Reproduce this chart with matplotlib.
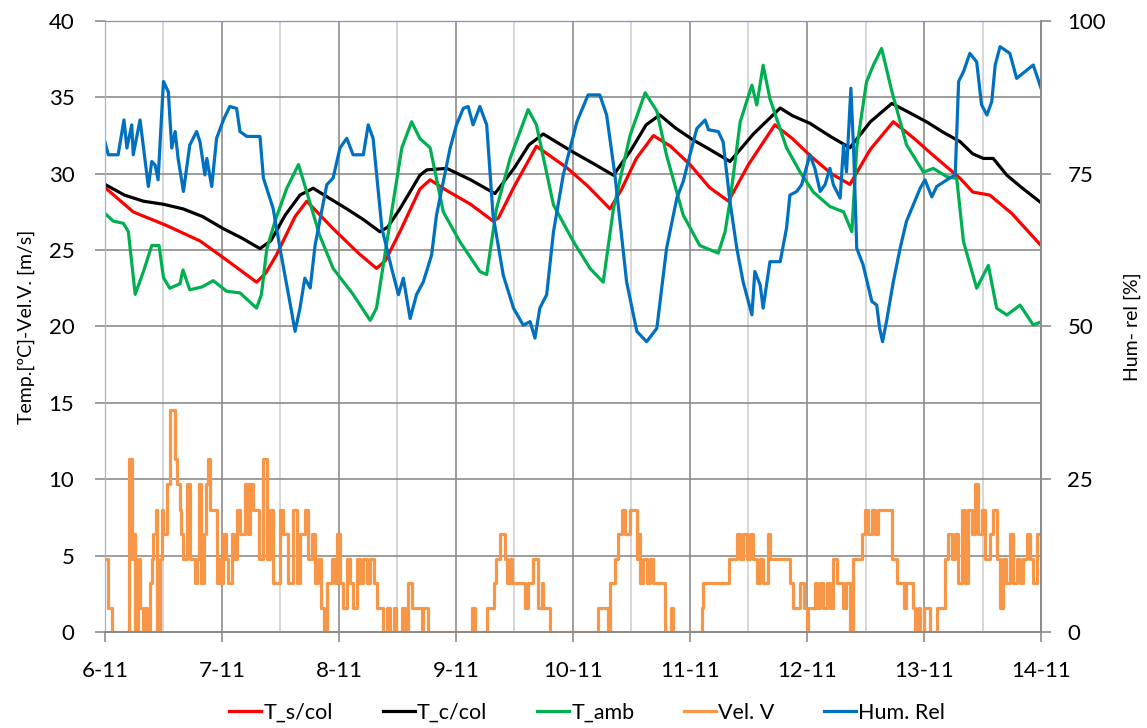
import numpy as np
import matplotlib
matplotlib.use('Agg')
import matplotlib.pyplot as plt
from matplotlib.ticker import MultipleLocator

plt.rcParams['font.family'] = ['Lato', 'DejaVu Sans']

# hours counted from 6-11 00:00
day_labels = ['6-11', '7-11', '8-11', '9-11', '10-11', '11-11', '12-11', '13-11', '14-11']

ts_h = [0, 5.8, 12.7, 19.5, 24.3, 31.1, 33, 35.2, 39, 41.4, 46.8, 52, 55.7, 57.5, 60.5, 64.6,
        66.7, 70.1, 75, 79.6, 80.7, 84, 88.5, 94.7, 99, 103.6, 106, 109, 112.5, 116, 120, 124,
        127.9, 132, 137.4, 141, 144.6, 149, 152.8, 157, 161.7, 166, 169.9, 175.4, 178, 181.5,
        186, 192]
ts_v = [29.1, 27.5, 26.6, 25.6, 24.5, 22.9, 23.5, 24.7, 27.2, 28.2, 26.4, 24.8, 23.8, 24.3, 26.2, 29.0,
        29.6, 28.9, 28.0, 26.9, 27.1, 29.2, 31.8, 30.4, 29.2, 27.7, 29.0, 31.0, 32.5, 31.8, 30.6, 29.1,
        28.2, 30.6, 33.2, 32.3, 31.2, 30.0, 29.3, 31.6, 33.4, 32.3, 31.2, 29.7, 28.8, 28.6,
        27.4, 25.3]

tc_h = [0, 4, 7.9, 12, 16, 20, 24.3, 28, 31.8, 34, 37, 40, 42.7, 46, 49.6, 53, 56.4, 58, 60.5,
        64.6, 66, 70.1, 75, 80, 84, 87, 89.9, 93, 96.1, 100, 104.3, 108, 111, 113.8, 117, 120.7,
        124, 128.2, 133, 138.5, 141, 144.6, 149, 152.8, 157, 161.4, 165, 168.5, 172, 175.4, 178,
        180.2, 182.2, 185, 188, 192]
tc_v = [29.3, 28.6, 28.2, 28.0, 27.7, 27.2, 26.4, 25.8, 25.1, 25.6, 27.3, 28.6, 29.05, 28.4, 27.7, 27.0, 26.2, 26.5, 27.7,
        29.9, 30.25, 30.35, 29.6, 28.7, 30.4, 31.9, 32.6, 32.0, 31.4, 30.7, 29.9, 31.6, 33.2, 33.85, 33.0, 32.2,
        31.6, 30.8, 32.6, 34.3, 33.8, 33.3, 32.4, 31.7, 33.4, 34.6, 34.0, 33.4, 32.7, 32.1, 31.3,
        31.0, 31.0, 29.9, 29.1, 28.1]

ta_h = [0, 1.7, 3.8, 4.8, 6.2, 7.9, 9.6, 11.1, 12, 13.3, 15.4, 16, 17.4, 20, 22.2, 25, 27.7, 31.1,
        32.1, 33.2, 35, 37.3, 39.7, 41.4, 44, 46.8, 50.9, 54.4, 55.7, 58.5, 60.9, 62.9, 64.6, 66.7,
        69.4, 72.8, 76.9, 78.3, 80.3, 83.1, 86.8, 88.5, 92, 96.1, 99.5, 102.2, 104.3, 107.7, 110.8,
        113.2, 115.2, 118.6, 122, 125.8, 127.2, 128.2, 130.3, 132.7, 133.7, 135, 136.4, 139.8,
        142.6, 145.3, 148.7, 151.5, 153.2, 154.2, 156.2, 157.6, 159.3, 161.4, 164.4, 167.9, 169.9,
        172.7, 174.7, 176.1, 178.8, 181.2, 182.9, 185, 187.7, 190.4, 192]
ta_v = [27.4, 26.9, 26.75, 26.2, 22.1, 23.6, 25.3, 25.3, 23.2, 22.5, 22.8, 23.7, 22.4, 22.6, 23.0, 22.3, 22.2, 21.2,
        22.1, 25.1, 27.0, 29.05, 30.6, 28.8, 26.0, 23.8, 22.1, 20.4, 21.2, 26.9, 31.7, 33.4, 32.3, 31.7,
        27.5, 25.55, 23.6, 23.4, 27.7, 31.0, 34.2, 33.2, 27.95, 25.55, 23.8, 22.9, 27.7, 32.5, 35.3,
        34.1, 31.2, 27.3, 25.3, 24.8, 26.2, 28.2, 33.4, 35.8, 34.5, 37.1, 34.9, 31.7,
        30.1, 28.8, 27.85, 27.5, 26.2, 31.7, 36.0, 37.1, 38.2, 35.4, 31.9, 30.1, 30.35,
        29.8, 29.7, 25.55, 22.5, 24.0, 21.2, 20.75, 21.4, 20.1, 20.3]

wind_h = [0, 0.7, 1.4, 5.0, 5.5, 5.8, 6.2, 6.8, 7.2, 7.9,
          8.2, 8.6, 9.2, 9.6, 9.9, 10.4, 10.7, 11.3, 11.6, 12.0,
          12.7, 13.3, 14.4, 14.8, 15.3, 15.5, 16.1, 16.9, 17.4, 18.5,
          18.8, 19.3, 19.8, 20.3, 20.7, 21.2, 21.5, 22.6, 22.9, 23.3,
          23.6, 24.3, 24.8, 25.3, 26.0, 26.5, 27.0, 27.7, 28.7, 29.4,
          29.7, 30.4, 31.7, 32.5, 33.2, 33.9, 34.5, 35.9, 36.6, 37.6,
          38.6, 39.3, 40.0, 41.0, 41.7, 42.4, 43.1, 43.8, 44.4, 44.9,
          45.5, 46.5, 47.2, 47.5, 48.2, 48.9, 49.6, 50.3, 50.9, 51.6,
          52.3, 53.0, 53.7, 54.4, 55.2, 55.7, 57.1, 57.8, 58.5, 59.2,
          59.8, 60.9, 61.5, 62.2, 62.9, 65.0, 65.3, 66.3, 75.2, 75.9,
          78.3, 79.7, 80.3, 81.0, 82.1, 82.4, 83.1, 83.4, 86.2, 86.8,
          87.9, 88.9, 89.6, 89.9, 91.3, 101.2, 103.2, 103.6, 104.6, 105.3,
          106.0, 106.7, 107.7, 109.1, 109.4, 109.7, 110.4, 111.1, 111.8, 112.5,
          114.9, 116.1, 116.6, 122.4, 122.7, 127.9, 129.6, 130.3, 130.9, 131.6,
          132.3, 133.0, 133.7, 134.4, 135.0, 136.1, 136.5, 140.5, 141.2, 142.6,
          143.3, 143.9, 144.3, 145.6, 146.0, 146.7, 147.3, 148.0, 148.7, 149.4,
          150.1, 151.4, 152.1, 152.8, 153.5, 155.2, 155.9, 156.6, 157.3, 158.0,
          158.6, 161.4, 162.4, 163.8, 164.4, 165.8, 166.2, 166.8, 167.2, 167.9,
          169.2, 170.6, 172.3, 173.0, 173.7, 174.4, 175.0, 175.7, 176.4, 177.1,
          177.8, 178.5, 179.1, 179.8, 180.5, 181.5, 182.2, 182.9, 183.6, 184.3,
          184.9, 185.6, 186.3, 187.0, 187.7, 188.4, 189.1, 189.7, 190.4, 191.1, 192.0]
wind_v = [4.8, 1.6, 0, 11.3, 4.8, 6.4, 0, 4.8, 1.6, 0,
          1.6, 0, 3.2, 4.8, 6.4, 8.0, 0, 4.8, 8.0, 6.4,
          9.7, 14.5, 11.3, 9.7, 8.0, 6.4, 4.8, 9.7, 4.8, 3.2,
          4.8, 9.7, 3.2, 6.4, 9.7, 11.3, 8.0, 8.0, 3.2, 4.8,
          3.2, 6.4, 4.8, 3.2, 6.4, 4.8, 8.0, 6.4, 9.7, 6.4,
          9.7, 8.0, 4.8, 11.3, 4.8, 8.0, 3.2, 8.0, 6.4, 3.2,
          8.0, 3.2, 6.4, 8.0, 4.8, 6.4, 3.2, 4.8, 1.6, 0,
          3.2, 4.8, 3.2, 6.4, 3.2, 1.6, 4.8, 3.2, 1.6, 4.8,
          3.2, 4.8, 3.2, 4.8, 3.2, 1.6, 0, 1.6, 0, 1.6,
          0, 1.6, 0, 3.2, 1.6, 0, 1.6, 0, 1.6, 0,
          1.6, 3.2, 4.8, 6.4, 4.8, 3.2, 4.8, 3.2, 1.6, 3.2,
          4.8, 1.6, 3.2, 1.6, 0, 1.6, 0, 3.2, 4.8, 6.4,
          8.0, 6.4, 8.0, 4.8, 6.4, 3.2, 4.8, 3.2, 4.8, 3.2,
          0, 1.6, 0, 1.6, 3.2, 4.8, 6.4, 4.8, 6.4, 4.8,
          6.4, 4.8, 3.2, 4.8, 3.2, 6.4, 4.8, 3.2, 1.6, 3.2,
          1.6, 0, 1.6, 3.2, 1.6, 3.2, 1.6, 3.2, 1.6, 4.8,
          3.2, 1.6, 3.2, 0, 4.8, 6.4, 8.0, 6.4, 8.0, 6.4,
          8.0, 4.8, 3.2, 1.6, 3.2, 1.6, 0, 1.6, 0, 1.6,
          0, 1.6, 4.8, 6.4, 4.8, 6.4, 3.2, 8.0, 3.2, 8.0,
          6.4, 9.7, 6.4, 8.0, 4.8, 6.4, 8.0, 4.8, 1.6, 4.8,
          3.2, 6.4, 3.2, 4.8, 3.2, 4.8, 6.4, 4.8, 3.2, 6.4, 4.8]

hum_h = [0, 0.7, 2.7, 3.9, 4.5, 5.5, 5.8, 7.2, 8.9, 9.6, 10.3, 10.9, 12, 13, 13.7, 14.4, 15, 16.1,
         17.4, 18.8, 19.5, 20.5, 20.9, 21.9, 22.9, 24.3, 25.6, 27, 27.7, 29.1, 31.8, 32.5, 34.5,
         35.9, 37.9, 39, 40, 41, 42.1, 43.1, 45.5, 46.8, 48.2, 49.6, 50.9, 53, 54, 55, 56.8, 58.8,
         60.2, 61.2, 62.6, 63.9, 65.3, 67, 68, 70.8, 72.1, 73.5, 74.5, 75.5, 76.9, 78.3, 79.6,
         81.7, 83.8, 85.8, 87.2, 88.2, 89.2, 90.6, 92, 94, 96.8, 99.1, 101.5, 102.9, 104.6, 107,
         109.1, 111.1, 113.2, 115.2, 117.3, 118.6, 120, 121.4, 123.1, 123.8, 125.8, 126.8, 128.2,
         129.6, 130.9, 132.7, 133.3, 134.4, 135, 136.4, 138.5, 139.8, 140.5, 141.9, 142.9, 144.6,
         145.6, 146.7, 147.7, 148.7, 149.4, 150.8, 151.5, 152.1, 153, 153.6, 154.2, 155.5, 157.3,
         158.3, 158.9, 159.5, 160.3, 161.7, 163.1, 164.4, 165.8, 167.2, 168.2, 169.6, 170.6,
         172.7, 174.4, 175.1, 176.1, 177.4, 178.8, 179.8, 180.9, 181.9, 182.6, 183.6, 185.6,
         187, 188.7, 190.4, 192]
hum_v = [80.2, 78.1, 78.1, 83.8, 79.2, 83.0, 78.1, 83.8, 72.9, 77.0, 76.4, 74.0, 90.1, 88.4, 79.2, 81.9, 77.5, 72.1,
         79.7, 81.9, 80.2, 74.8, 77.5, 72.9, 80.8, 83.8, 86.0, 85.7, 81.9, 81.1, 81.1, 74.3, 69.3,
         62.8, 54.1, 49.2, 53.0, 57.9, 56.3, 63.3, 73.2, 74.3, 79.2, 80.8, 78.1, 78.1, 83.0, 80.8, 66.1, 59.5,
         55.2, 57.9, 51.3, 55.2, 57.3, 61.7, 68.2, 79.2, 83.0, 85.7, 86.0, 83.0, 86.0, 83.0, 68.2,
         58.4, 53.0, 50.2, 50.8, 48.1, 53.0, 55.2, 65.5, 74.8, 83.5, 87.9, 87.9, 84.6, 74.8, 57.3,
         49.2, 47.5, 49.7, 62.8, 71.0, 73.7, 78.1, 82.4, 83.8, 82.2, 81.9, 80.2, 70.4,
         62.8, 57.3, 51.9, 59.0, 56.8, 53.0, 60.6, 60.6, 66.1, 71.5, 72.1, 73.2, 78.1,
         75.9, 72.1, 73.2, 75.9, 73.2, 71.0, 79.7, 75.3, 89.0, 78.1, 62.8, 60.1, 54.1,
         53.5, 49.7, 47.5, 50.8, 57.3, 62.8, 67.2, 69.9, 72.6, 74.0, 71.2, 72.9,
         74.0, 74.8, 90.1, 91.7, 94.7, 93.3, 86.3, 84.6, 86.8, 92.8, 95.8, 94.7,
         90.6, 91.7, 92.8, 89.0]

fig = plt.figure(figsize=(11.47, 7.28), dpi=100)
ax = fig.add_axes([0.0915, 0.1319, 0.8161, 0.8393])
ax2 = ax.twinx()

lw = 2.3
l1, = ax.plot(ts_h, ts_v, color='#FF0000', lw=lw, label='T_s/col')
l2, = ax.plot(tc_h, tc_v, color='#000000', lw=lw, label='T_c/col')
l3, = ax.plot(ta_h, ta_v, color='#00B050', lw=lw, label='T_amb')
l4, = ax.plot(wind_h, wind_v, color='#F79646', lw=lw, drawstyle='steps-post', label='Vel. V')
l5, = ax2.plot(hum_h, hum_v, color='#0070C0', lw=lw, label='Hum. Rel')

ax.set_xlim(0, 192)
ax.set_ylim(0, 40)
ax2.set_ylim(0, 100)
ax.set_xticks(np.arange(0, 193, 24))
ax.set_xticklabels(day_labels)
ax.xaxis.set_minor_locator(MultipleLocator(12))
ax.set_yticks(np.arange(0, 41, 5))
ax2.set_yticks(np.arange(0, 101, 25))

ax.grid(True, which='major', color='#8c8c8c', lw=1.2)
ax.grid(True, which='minor', axis='x', color='#cfcfcf', lw=1.2)
ax.set_axisbelow(True)

ax.tick_params(axis='x', which='major', direction='out', length=7, width=1.2, color='#8c8c8c',
               labelsize=16, pad=14)
ax.tick_params(axis='x', which='minor', length=0)
ax.tick_params(axis='y', direction='out', length=7, width=1.2, color='#8c8c8c', labelsize=16, pad=15)
ax2.tick_params(axis='y', direction='out', length=7, width=1.2, color='#8c8c8c', labelsize=16, pad=12)

for a in (ax, ax2):
    a.spines['top'].set_color('#6f9ad0')
    a.spines['left'].set_color('#9db3d0')
    a.spines['right'].set_color('#8c8c8c')
    a.spines['bottom'].set_color('#8c8c8c')
    a.spines['right'].set_linewidth(1.4)
    a.spines['bottom'].set_linewidth(1.4)

ax.set_ylabel('Temp.[ºC]-Vel.V. [m/s]', fontsize=14, labelpad=10)
ax2.set_ylabel('Hum- rel [%]', fontsize=14, labelpad=13)

fig.legend(handles=[l1, l2, l3, l4, l5], loc='center', bbox_to_anchor=(0.512, 0.021), ncol=5,
           frameon=False, fontsize=15.5, handlelength=1.5, handletextpad=0.1, columnspacing=2.3)

fig.savefig('out.png', dpi=100)
